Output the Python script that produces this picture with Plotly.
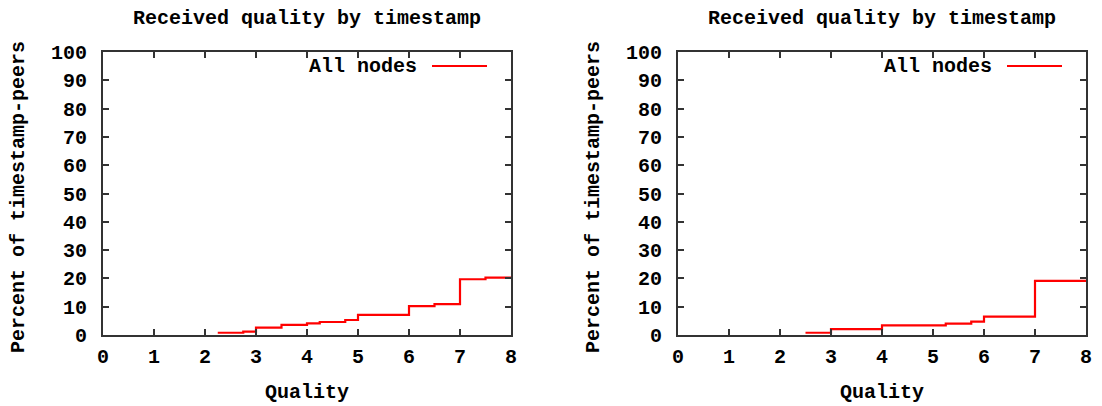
import plotly.graph_objects as go

# Step data: quality level vs percent of timestamp-peers
left_quality = [2.25, 2.75, 3.0, 3.5, 4.0, 4.25, 4.75, 5.0, 6.0, 6.5, 7.0, 7.5, 8.0]
left_percent = [0.8, 1.2, 2.6, 3.6, 4.1, 4.6, 5.3, 7.1, 10.2, 10.9, 19.7, 20.3, 20.3]

right_quality = [2.5, 3.0, 4.0, 5.25, 5.75, 6.0, 7.0, 8.0]
right_percent = [0.8, 2.1, 3.4, 4.0, 4.7, 6.5, 19.1, 19.1]

x_ticks = [0, 1, 2, 3, 4, 5, 6, 7, 8]
y_ticks = [0, 10, 20, 30, 40, 50, 60, 70, 80, 90, 100]

chart_title = "Received quality by timestamp"
x_title = "Quality"
y_title = "Percent of timestamp-peers"
series_name = "All nodes"

W, H = 1102, 406
FONT = dict(family="Liberation Mono", size=20, color="black", weight="bold")
AXIS_COLOR = "#333333"
LINE_COLOR = "#ff0000"

# pixel frame of each panel
panels = [
    dict(x0=103, x1=511, xs=left_quality, ys=left_percent),
    dict(x0=678, x1=1086, xs=right_quality, ys=right_percent),
]
TOP, BOTTOM = 52, 335

fig = go.Figure()

def px(x):
    return x / W

def py(y):
    return 1 - y / H

for i, p in enumerate(panels, start=1):
    xa = "x" if i == 1 else f"x{i}"
    ya = "y" if i == 1 else f"y{i}"
    fig.add_trace(go.Scatter(
        x=p["xs"], y=p["ys"], mode="lines", name=series_name,
        line=dict(color=LINE_COLOR, width=2.2, shape="hv"),
        xaxis=xa, yaxis=ya, showlegend=False,
    ))
    axis_common = dict(
        showgrid=False, zeroline=False, showline=True, mirror="ticks",
        linecolor=AXIS_COLOR, linewidth=2, ticks="inside", ticklen=6,
        tickwidth=2, tickcolor=AXIS_COLOR, tickfont=FONT, automargin=False,
    )
    fig.layout[f"xaxis{'' if i == 1 else i}"] = dict(
        axis_common, domain=[px(p["x0"]), px(p["x1"])], range=[0, 8],
        tickvals=x_ticks, ticktext=[str(v) for v in x_ticks],
        anchor=ya, ticklabelstandoff=2,
    )
    fig.layout[f"yaxis{'' if i == 1 else i}"] = dict(
        axis_common, domain=[py(BOTTOM), py(TOP)], range=[0, 100],
        tickvals=y_ticks, ticktext=[str(v) for v in y_ticks],
        anchor=xa, ticklabelstandoff=10,
    )
    cx = (p["x0"] + p["x1"]) / 2
    # panel title
    fig.add_annotation(text=chart_title, x=px(cx), y=py(18), xref="paper",
                       yref="paper", showarrow=False, font=FONT,
                       xanchor="center", yanchor="middle")
    # x-axis title
    fig.add_annotation(text=x_title, x=px(cx), y=py(392), xref="paper",
                       yref="paper", showarrow=False, font=FONT,
                       xanchor="center", yanchor="middle")
    # y-axis title
    fig.add_annotation(text=y_title, x=px(p["x0"] - 85), y=py(197),
                       xref="paper", yref="paper", showarrow=False,
                       font=FONT, textangle=-90,
                       xanchor="center", yanchor="middle")
    # key: label on the left, line sample on the right
    fig.add_annotation(text=series_name, x=px(p["x1"] - 92), y=py(67),
                       xref="paper", yref="paper", showarrow=False,
                       font=FONT, xanchor="right", yanchor="middle")
    fig.add_shape(type="line", xref="paper", yref="paper",
                  x0=px(p["x1"] - 79), x1=px(p["x1"] - 24),
                  y0=py(66), y1=py(66),
                  line=dict(color=LINE_COLOR, width=2))

fig.update_layout(
    template="none",
    width=W, height=H, margin=dict(l=0, r=0, t=0, b=0, autoexpand=False),
    paper_bgcolor="white", plot_bgcolor="white", showlegend=False,
)

fig.write_html("out.html")
